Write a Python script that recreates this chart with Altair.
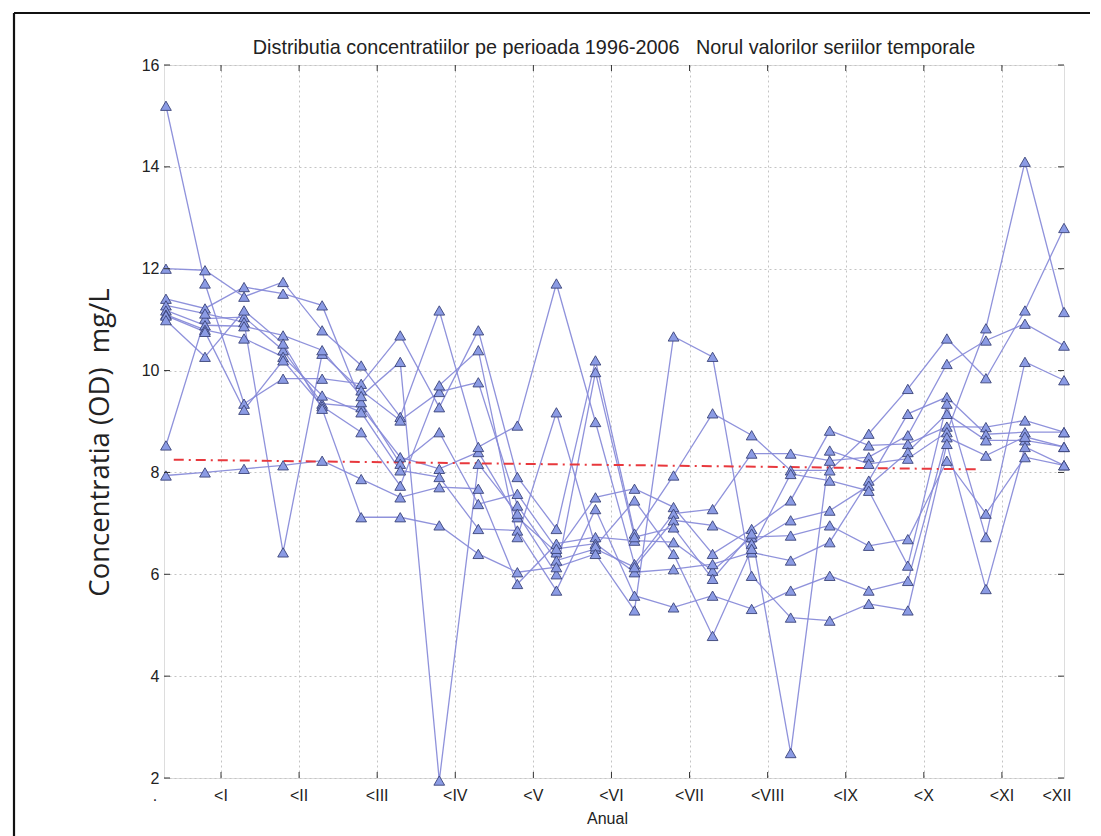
import altair as alt
import pandas as pd

# ---------------- data ----------------
x_index = list(range(1, 25))  # two readings per month

s01 = [15.2, 11.71, 9.35, 9.84, 9.84, 9.74, 10.69, 9.28, 10.79, 7.91, 6.89, 10.2, 6.8, 7.94, 9.16, 8.73, 8.04, 8.04, 8.76, 9.64, 10.63, 9.85, 11.18, 12.8]
s02 = [8.53, 11.02, 11.05, 10.40, 9.35, 9.28, 8.3, 8.07, 8.4, 7.12, 6.43, 7.51, 7.68, 7.32, 6.4, 6.89, 7.45, 8.82, 8.53, 8.56, 8.9, 8.89, 9.02, 8.79]
s03 = [7.94, 8.0, 8.07, 8.14, 8.23, 7.87, 7.51, 7.71, 7.68, 5.81, 6.6, 6.73, 6.66, 6.63, 6.07, 6.73, 6.76, 6.96, 6.56, 6.69, 8.23, 7.19, 8.30, 8.14]
s04 = [12.0, 11.97, 11.45, 11.74, 10.79, 10.1, 9.09, 11.18, 8.5, 8.92, 11.71, 8.99, 6.2, 7.19, 7.28, 8.37, 8.37, 8.23, 8.3, 8.73, 10.13, 10.59, 10.92, 10.49]
s05 = [11.41, 11.22, 11.64, 11.51, 11.28, 9.38, 8.17, 8.79, 7.38, 7.58, 6.5, 6.6, 6.04, 6.1, 6.2, 6.43, 6.27, 6.63, 7.84, 9.15, 9.48, 8.75, 8.79, 8.79]
s06 = [11.28, 11.12, 10.95, 6.43, 10.33, 9.61, 9.02, 9.58, 9.77, 7.35, 6.27, 6.5, 6.14, 7.06, 6.96, 6.6, 7.06, 7.25, 7.74, 8.4, 9.15, 8.63, 8.63, 8.50]
s07 = [11.18, 10.89, 10.87, 10.69, 10.40, 9.5, 10.17, 1.95, 8.17, 7.19, 6.0, 9.97, 6.73, 6.92, 5.91, 6.8, 2.49, 8.43, 8.17, 8.27, 8.79, 10.83, 14.1, 11.15]
s08 = [11.1, 10.8, 10.63, 10.27, 9.51, 9.18, 8.04, 7.91, 6.89, 6.86, 5.68, 7.28, 5.58, 5.35, 5.58, 5.32, 5.68, 5.97, 5.68, 5.87, 8.69, 8.33, 8.7, 8.5]
s09 = [11.08, 10.76, 9.23, 10.2, 9.3, 8.79, 7.74, 9.71, 10.4, 6.73, 9.18, 6.55, 7.45, 6.4, 4.79, 6.5, 7.97, 7.84, 7.64, 6.17, 9.35, 6.73, 10.17, 9.81]
s10 = [10.99, 10.27, 11.18, 10.53, 9.25, 7.12, 7.12, 6.96, 6.4, 6.04, 6.14, 6.4, 5.29, 10.67, 10.27, 5.97, 5.15, 5.09, 5.42, 5.29, 8.56, 5.71, 8.50, 8.14]

series = [s01, s02, s03, s04, s05, s06, s07, s08, s09, s10]
series_names = [f"seria {i}" for i in range(1, 11)]

# mean / trend line (red dash-dot)
trend_x = [1.2, 21.8]
trend_y = [8.25, 8.06]

# x-axis tick positions and labels
tick_pos = [2.41 + 2 * k for k in range(11)]
tick_labels = ["<I", "<II", "<III", "<IV", "<V", "<VI", "<VII", "<VIII", "<IX", "<X", "<XI"]
extra_label_pos = [0.72, 23.82]
extra_labels = [".", "<XII"]
y_ticks = [2, 4, 6, 8, 10, 12, 14, 16]

TITLE = "Distributia concentratiilor pe perioada 1996-2006\u00a0\u00a0\u00a0Norul valorilor seriilor temporale"
Y_TITLE = "Concentratia (OD)\u00a0\u00a0mg/L"

# ---------------- frames ----------------
rows = []
for name, vals in zip(series_names, series):
    for xi, v in zip(x_index, vals):
        rows.append({"serie": name, "x": xi, "v": v})
df = pd.DataFrame(rows)
trend = pd.DataFrame({"x": trend_x, "v": trend_y})
lab = pd.DataFrame({"x": tick_pos + extra_label_pos, "lab": tick_labels + extra_labels})
xt = pd.DataFrame({"x": tick_pos})
yt = pd.DataFrame({"v": y_ticks})
one = pd.DataFrame({"a": [0]})

W, H = 900, 713
xs = alt.Scale(domain=[0.95, 24.0], nice=False, zero=False)
ys = alt.Scale(domain=[2, 16], nice=False, zero=False)

FONT = "Liberation Sans"

x_enc = alt.X("x:Q", scale=xs, axis=alt.Axis(
    values=tick_pos, labels=False, ticks=False, domain=False, grid=True,
    gridDash=[2, 3], gridColor="#c4c4c4", gridWidth=1,
    title="Anual", titleFont=FONT, titleFontSize=16, titleFontWeight="normal",
    titleColor="#222222", titleX=443, titleY=40, titleBaseline="middle"))
y_enc = alt.Y("v:Q", scale=ys, axis=alt.Axis(
    values=y_ticks, ticks=False, domain=False, grid=True,
    gridDash=[2, 3], gridColor="#c4c4c4", gridWidth=1,
    labelFont=FONT, labelFontSize=16, labelColor="#222222", labelPadding=5,
    title=Y_TITLE, titleFont="Open Sans", titleFontSize=27.5, titleFontWeight="normal",
    titleColor="#222222", titleX=-64, titleY=377, titleAngle=270,
    titleBaseline="middle", titleAlign="center"))

lines = alt.Chart(df).mark_line(color="#8589d8", strokeWidth=1.3, opacity=0.92).encode(
    x=x_enc, y=y_enc, detail="serie:N", order="x:Q")

pts = alt.Chart(df).mark_point(shape="triangle-up", filled=True, size=115,
                               color="#8b9be4", stroke="#3a4378", strokeWidth=0.9,
                               opacity=1).encode(
    x=alt.X("x:Q", scale=xs), y=alt.Y("v:Q", scale=ys), detail="serie:N")

trend_line = alt.Chart(trend).mark_line(color="#e8383d", strokeWidth=2,
                                        strokeDash=[10, 5, 2, 5]).encode(
    x=alt.X("x:Q", scale=xs), y=alt.Y("v:Q", scale=ys))

xlabels = alt.Chart(lab).mark_text(font=FONT, fontSize=16, color="#222222",
                                   baseline="top", align="center").encode(
    x=alt.X("x:Q", scale=xs), y=alt.value(H + 10), text="lab:N")

tick_b = alt.Chart(xt).mark_rule(color="#333333", strokeWidth=1).encode(
    x=alt.X("x:Q", scale=xs), y=alt.value(H), y2=alt.value(H - 6))
tick_t = alt.Chart(xt).mark_rule(color="#333333", strokeWidth=1).encode(
    x=alt.X("x:Q", scale=xs), y=alt.value(0), y2=alt.value(6))
tick_l = alt.Chart(yt).mark_rule(color="#333333", strokeWidth=1).encode(
    y=alt.Y("v:Q", scale=ys), x=alt.value(0), x2=alt.value(6))
tick_r = alt.Chart(yt).mark_rule(color="#333333", strokeWidth=1).encode(
    y=alt.Y("v:Q", scale=ys), x=alt.value(W), x2=alt.value(W - 6))

frame_top = alt.Chart(one).mark_rule(color="#111111", strokeWidth=2.2).encode(
    x=alt.value(-150), x2=alt.value(926), y=alt.value(-52))
frame_left = alt.Chart(one).mark_rule(color="#111111", strokeWidth=2.2).encode(
    x=alt.value(-150), y=alt.value(-52), y2=alt.value(790))

chart = alt.layer(
    lines, trend_line, pts, xlabels, tick_b, tick_t, tick_l, tick_r, frame_top, frame_left
).properties(
    width=W, height=H,
    title=alt.Title(TITLE, font=FONT, fontSize=19.8, fontWeight="normal",
                    color="#222222", anchor="middle", offset=0, dy=46),
    autosize=alt.AutoSizeParams(type="none"),
    padding={"left": 164, "top": 65, "right": 37, "bottom": 58},
).configure_view(
    stroke="#333333", strokeWidth=1.5
).configure(background="white")

chart.save("out.html", embed_options={"renderer": "svg", "actions": False})
